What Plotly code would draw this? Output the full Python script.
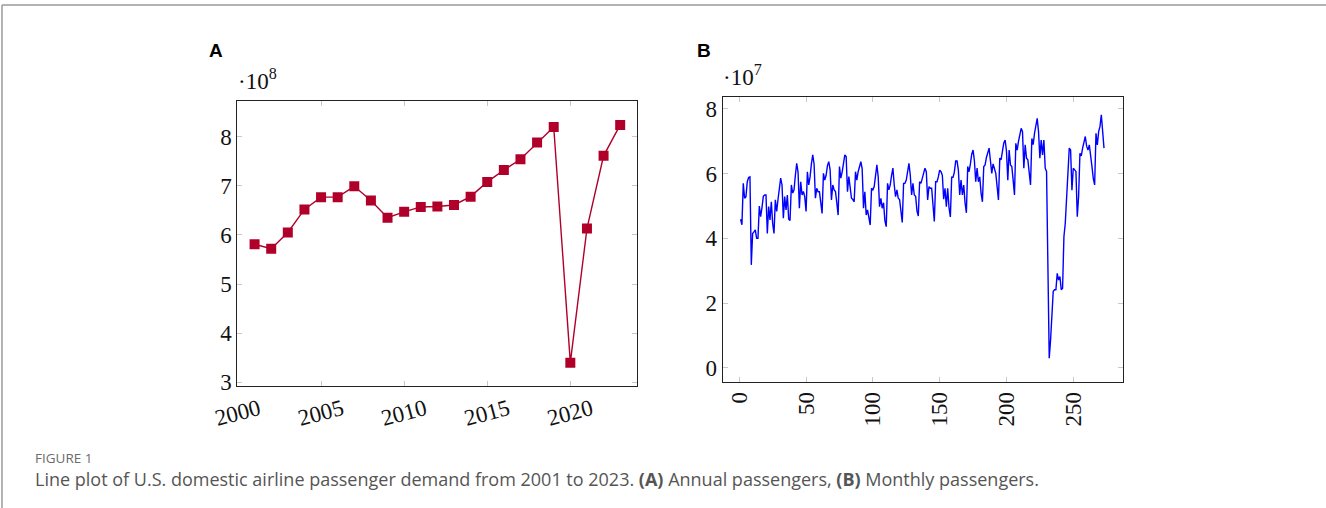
import plotly.graph_objects as go

# ---------------- data ----------------
years = list(range(2001, 2024))
# annual domestic passengers, in units of 1e8
annual_e8 = [5.81, 5.72, 6.05, 6.52, 6.77, 6.77, 6.99, 6.70, 6.35, 6.47, 6.57, 6.58,
             6.61, 6.78, 7.08, 7.32, 7.54, 7.88, 8.20, 3.40, 6.13, 7.61, 8.24]

# monthly domestic passengers, in units of 1e7
m2001 = [4.59, 4.42, 5.70, 5.24, 5.29, 5.75, 5.88, 5.90, 3.18, 4.15, 4.20, 4.26]
m2002 = [4.00, 4.00, 5.00, 4.67, 4.95, 5.30, 5.34, 5.34, 4.15, 4.98, 4.57, 5.13]
m2003 = [4.46, 4.15, 5.19, 4.83, 5.20, 5.60, 5.86, 5.65, 4.62, 5.29, 4.88, 5.34]
m2004 = [4.59, 4.55, 5.65, 5.40, 5.50, 5.95, 6.32, 6.05, 4.93, 5.75, 5.34, 5.45]
m2005 = [5.29, 4.83, 6.06, 5.65, 5.90, 6.30, 6.58, 6.30, 5.24, 5.55, 5.44, 5.44]
m2006 = [5.10, 4.77, 6.01, 5.80, 5.95, 6.25, 6.37, 6.12, 5.19, 5.65, 5.50, 5.45]
m2007 = [5.10, 4.72, 6.22, 5.86, 6.05, 6.40, 6.58, 6.53, 5.44, 5.91, 5.60, 5.24]
m2008 = [5.20, 5.13, 6.06, 5.80, 6.06, 6.25, 6.37, 6.15, 4.93, 5.44, 4.72, 4.88]
m2009 = [4.60, 4.41, 5.55, 5.50, 5.60, 5.95, 6.27, 5.90, 4.98, 5.24, 4.93, 5.10]
m2010 = [4.55, 4.36, 5.70, 5.50, 5.65, 5.95, 6.17, 5.65, 5.29, 5.50, 5.24, 5.20]
m2011 = [4.75, 4.49, 5.70, 5.70, 5.80, 6.10, 6.32, 5.95, 5.34, 5.70, 5.34, 5.30]
m2012 = [4.85, 4.69, 5.75, 5.70, 5.85, 6.05, 6.17, 6.06, 5.19, 5.60, 5.55, 5.55]
m2013 = [4.85, 4.52, 5.75, 5.75, 5.90, 6.11, 6.06, 5.95, 5.21, 5.55, 4.98, 5.55]
m2014 = [4.95, 4.66, 5.89, 5.89, 6.05, 6.39, 6.39, 6.11, 5.34, 5.80, 5.34, 5.65]
m2015 = [5.10, 4.79, 6.22, 6.06, 6.30, 6.60, 6.73, 6.40, 5.75, 6.17, 5.75, 5.90]
m2016 = [5.40, 5.13, 6.22, 6.27, 6.50, 6.70, 6.79, 6.40, 6.01, 6.30, 6.11, 6.01]
m2017 = [5.60, 5.19, 6.48, 6.43, 6.70, 6.95, 7.04, 6.70, 5.80, 6.73, 6.27, 6.22]
m2018 = [5.80, 5.34, 6.94, 6.73, 7.00, 7.25, 7.40, 7.30, 6.17, 6.89, 6.48, 6.43]
m2019 = [6.10, 5.65, 7.09, 6.90, 7.25, 7.50, 7.71, 7.30, 6.48, 7.04, 6.58, 7.04]
m2020 = [6.17, 6.07, 3.30, 0.29, 0.85, 1.79, 2.36, 2.41, 2.41, 2.92, 2.71, 2.82]
m2021 = [2.41, 2.46, 4.05, 4.46, 5.25, 6.05, 6.79, 6.73, 5.49, 6.17, 6.10, 6.07]
m2022 = [4.67, 5.30, 6.63, 6.55, 6.79, 6.94, 7.15, 6.85, 6.73, 6.89, 6.43, 6.22]
m2023 = [5.85, 5.65, 7.25, 6.89, 7.30, 7.46, 7.82, 7.30, 6.79]

monthly_e7 = (m2001 + m2002 + m2003 + m2004 + m2005 + m2006 + m2007 + m2008 + m2009
              + m2010 + m2011 + m2012 + m2013 + m2014 + m2015 + m2016 + m2017 + m2018
              + m2019 + m2020 + m2021 + m2022 + m2023)
month_index = list(range(1, len(monthly_e7) + 1))

annual_xticks = [2000, 2005, 2010, 2015, 2020]
annual_yticks = [3, 4, 5, 6, 7, 8]
monthly_xticks = [0, 50, 100, 150, 200, 250]
monthly_yticks = [0, 2, 4, 6, 8]

caption_label = "FIGURE 1"
caption_text = ("Line plot of U.S. domestic airline passenger demand from 2001 to 2023. "
                "<b>(A)</b> Annual passengers, <b>(B)</b> Monthly passengers.")

# ---------------- figure ----------------
W, H = 1326, 508
def px(x):
    return x / W
def py(y):
    return 1 - y / H

fig = go.Figure()
fig.add_trace(go.Scatter(
    x=years, y=annual_e8, mode="lines+markers",
    line=dict(color="#B0002A", width=1.4),
    marker=dict(symbol="square", size=10, color="#B0002A"),
    xaxis="x", yaxis="y", showlegend=False))
fig.add_trace(go.Scatter(
    x=month_index, y=monthly_e7, mode="lines",
    line=dict(color="#0000FF", width=1.4),
    xaxis="x2", yaxis="y2", showlegend=False))

serif = "Liberation Serif, DejaVu Serif, serif"
tickfont = dict(family=serif, size=23, color="#111")
common = dict(showline=True, linecolor="#222", linewidth=1, mirror="allticks",
              ticks="inside", ticklen=5, tickcolor="#c8c8c8", tickwidth=1,
              showgrid=False, zeroline=False, tickfont=tickfont, fixedrange=True,
              automargin=False)

fig.update_layout(
    template="none",
    width=W, height=H, margin=dict(l=0, r=0, t=0, b=0, autoexpand=False),
    paper_bgcolor="white", plot_bgcolor="white",
    xaxis=dict(domain=[px(237.3), px(637.3)], range=[1999.96, 2024.03],
               tickvals=annual_xticks, tickangle=-15, ticklabelshift=21,
               anchor="y", **common),
    yaxis=dict(domain=[py(386), py(101)], range=[2.925, 8.727],
               tickvals=annual_yticks, anchor="x", **common),
    xaxis2=dict(domain=[px(722.7), px(1122.7)], range=[-12.4, 287.0],
                tickvals=monthly_xticks, tickangle=-90,
                anchor="y2", **common),
    yaxis2=dict(domain=[py(381.7), py(96.7)], range=[-0.433, 8.38],
                tickvals=monthly_yticks, anchor="x2", **common),
)

ann = []
ann.append(dict(x=px(236), y=py(96), xref="paper", yref="paper", xanchor="left", yanchor="bottom",
                text="·10<sup>8</sup>", showarrow=False, font=dict(family=serif, size=23, color="#111")))
ann.append(dict(x=px(721), y=py(92), xref="paper", yref="paper", xanchor="left", yanchor="bottom",
                text="·10<sup>7</sup>", showarrow=False, font=dict(family=serif, size=23, color="#111")))
ann.append(dict(x=px(207), y=py(50), xref="paper", yref="paper", xanchor="left", yanchor="middle",
                text="<b>A</b>", showarrow=False, font=dict(family="Liberation Sans, Arial, sans-serif", size=19, color="#000")))
ann.append(dict(x=px(695), y=py(50), xref="paper", yref="paper", xanchor="left", yanchor="middle",
                text="<b>B</b>", showarrow=False, font=dict(family="Liberation Sans, Arial, sans-serif", size=19, color="#000")))
ann.append(dict(x=px(33), y=py(457.5), xref="paper", yref="paper", xanchor="left", yanchor="middle",
                text=caption_label, showarrow=False, font=dict(family="Open Sans, sans-serif", size=13.5, color="#6b6b6b")))
ann.append(dict(x=px(33), y=py(479), xref="paper", yref="paper", xanchor="left", yanchor="middle",
                text=caption_text, showarrow=False, font=dict(family="Open Sans, sans-serif", size=18, color="#555")))
fig.update_layout(annotations=ann)

fig.update_layout(shapes=[
    dict(type="line", xref="paper", yref="paper", x0=px(2), x1=1, y0=py(5), y1=py(5),
         line=dict(color="#9a9a9a", width=1.5)),
    dict(type="line", xref="paper", yref="paper", x0=px(2), x1=px(2), y0=py(5), y1=0,
         line=dict(color="#9a9a9a", width=1.5)),
])

fig.write_html("out.html", config={"displayModeBar": False},
               post_script="document.body.style.margin='0';document.body.style.overflow='hidden';")
